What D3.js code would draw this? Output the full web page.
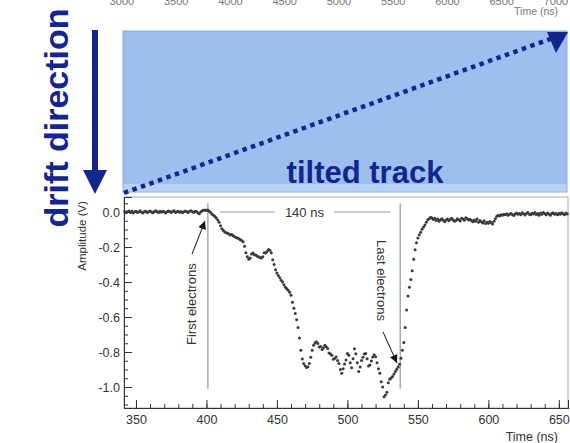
<!DOCTYPE html>
<html><head><meta charset="utf-8">
<script src="https://cdn.jsdelivr.net/npm/d3@7"></script>
<style>
html,body{margin:0;padding:0;background:#fff;}
svg{display:block;font-family:"Liberation Sans",Arial,Helvetica,sans-serif;}
</style></head>
<body>
<svg id="c" width="570" height="443"></svg>
<script>
// ---- data ----
const t0 = 342; // first sample time (ns), 1 ns sampling
const amplitude = [
 0.003,-0.004,0.002,0.006,-0.002,0.004,-0.005,0.001,0.005,-0.003,
 0.002,0.007,-0.001,-0.006,0.003,0.005,-0.002,0.001,0.006,0.000,
 -0.004,0.003,0.008,0.002,-0.003,0.004,-0.001,0.005,0.002,-0.005,
 0.001,0.006,0.003,-0.002,0.004,0.007,-0.003,0.002,0.005,-0.001,
 0.003,-0.004,0.002,0.006,0.001,-0.003,0.004,0.008,0.002,-0.002,
 0.005,0.003,-0.006,-0.010,0.002,0.007,0.010,0.012,0.009,0.011,
 0.005,-0.003,-0.012,-0.018,-0.026,-0.034,-0.045,-0.058,-0.078,-0.095,
 -0.105,-0.114,-0.118,-0.121,-0.126,-0.131,-0.128,-0.136,-0.141,-0.145,
 -0.149,-0.153,-0.158,-0.162,-0.170,-0.195,-0.232,-0.255,-0.270,-0.262,
 -0.240,-0.234,-0.244,-0.246,-0.252,-0.256,-0.260,-0.263,-0.255,-0.232,
 -0.234,-0.226,-0.214,-0.218,-0.232,-0.272,-0.300,-0.330,-0.348,-0.362,
 -0.376,-0.390,-0.400,-0.415,-0.430,-0.438,-0.447,-0.458,-0.475,-0.515,
 -0.550,-0.580,-0.615,-0.660,-0.720,-0.790,-0.840,-0.866,-0.878,-0.888,
 -0.884,-0.866,-0.830,-0.790,-0.762,-0.748,-0.742,-0.752,-0.772,-0.768,
 -0.786,-0.776,-0.762,-0.770,-0.780,-0.805,-0.812,-0.818,-0.842,-0.835,
 -0.828,-0.848,-0.866,-0.900,-0.922,-0.895,-0.868,-0.846,-0.808,-0.818,
 -0.862,-0.890,-0.838,-0.782,-0.810,-0.862,-0.912,-0.886,-0.848,-0.830,
 -0.812,-0.808,-0.838,-0.880,-0.874,-0.852,-0.828,-0.816,-0.827,-0.862,
 -0.895,-0.922,-0.970,-1.000,-1.055,-1.045,-1.030,-0.975,-0.955,-0.948,
 -0.940,-0.925,-0.912,-0.898,-0.885,-0.870,-0.835,-0.790,-0.745,-0.660,
 -0.560,-0.480,-0.430,-0.385,-0.335,-0.270,-0.215,-0.175,-0.148,-0.130,
 -0.115,-0.098,-0.085,-0.074,-0.058,-0.044,-0.038,-0.030,-0.034,-0.042,
 -0.036,-0.048,-0.040,-0.052,-0.044,-0.038,-0.047,-0.055,-0.046,-0.040,
 -0.050,-0.043,-0.036,-0.045,-0.053,-0.048,-0.039,-0.044,-0.051,-0.035,
 -0.040,-0.047,-0.032,-0.038,-0.045,-0.041,-0.049,-0.056,-0.046,-0.052,
 -0.040,-0.058,-0.048,-0.055,-0.062,-0.050,-0.066,-0.058,-0.064,-0.054,
 -0.060,-0.068,-0.052,-0.038,-0.024,-0.018,-0.022,-0.015,-0.019,-0.012,
 -0.016,-0.010,-0.018,-0.013,-0.008,-0.014,-0.020,-0.011,-0.006,-0.013,
 -0.009,-0.015,-0.004,-0.010,-0.017,-0.008,-0.002,-0.012,-0.016,-0.007,
 -0.011,-0.003,-0.014,-0.009,-0.019,-0.006,-0.012,-0.002,-0.010,-0.015,
 -0.005,-0.011,-0.018,-0.008,-0.004,-0.013,-0.009,-0.016,-0.007,-0.012,
 -0.004,-0.010,-0.015,-0.006,-0.011
];
const xTicks = [350, 400, 450, 500, 550, 600, 650];
const yTicks = [0, -0.2, -0.4, -0.6, -0.8, -1.0];
const topTicks = [3000, 3500, 4000, 4500, 5000, 5500, 6000, 6500, 7000];
const markers = [401, 537.5];          // first / last electrons (ns)
const spanLabel = "140 ns";

// ---- layout ----
const svg = d3.select("#c");
const L = 124, R = 568, T = 197, B = 408;
const x = d3.scaleLinear().domain([341.5, 656.5]).range([L, R]);
const y = d3.scaleLinear().domain([0.086, -1.12]).range([T, B]);
const navy = "#13258f";

// top partial axis (previous plot)
const xt = d3.scaleLinear().domain([3000, 7000]).range([122, 556]);
svg.append("g").selectAll("text").data(topTicks).join("text")
  .attr("x", d => xt(d)).attr("y", 5).attr("text-anchor", "middle")
  .attr("font-size", 11).attr("fill", "#777").text(d => d);
svg.append("text").attr("x", 558).attr("y", 15).attr("text-anchor", "end")
  .attr("font-size", 10.5).attr("fill", "#777").text("Time (ns)");

// frame
svg.append("rect").attr("x", L).attr("y", T).attr("width", R - L).attr("height", B - T)
  .attr("fill", "#fff").attr("stroke", "#aaa").attr("stroke-width", 1);

// axes
const fmt = d => d.toFixed(1);
const gy = svg.append("g").attr("transform", `translate(${L},0)`);
gy.call(d3.axisLeft(y).tickValues(d3.range(-1.1, 0.08, 0.05)).tickSize(-4).tickFormat(""));
gy.call(g => g.append("g").call(d3.axisLeft(y).tickValues(yTicks).tickSize(-8).tickPadding(4).tickFormat(fmt)));
const gx = svg.append("g").attr("transform", `translate(0,${B})`);
gx.call(d3.axisBottom(x).tickValues(d3.range(350, 651, 10)).tickSize(-4).tickFormat(""));
gx.call(g => g.append("g").call(d3.axisBottom(x).tickValues(xTicks).tickSize(-8).tickPadding(7).tickFormat(d => d)));
svg.selectAll(".domain").attr("stroke", "#333");
svg.selectAll(".tick line").attr("stroke", "#333");
svg.selectAll(".tick text").attr("font-size", 12.5).attr("fill", "#333")
  .attr("font-family", "Liberation Sans, Arial, sans-serif");

svg.append("text").attr("x", 558).attr("y", 441).attr("text-anchor", "end")
  .attr("font-size", 12.5).attr("fill", "#333").text("Time (ns)");
svg.append("text").attr("transform", "translate(86,201) rotate(-90)").attr("text-anchor", "end")
  .attr("font-size", 11.5).attr("fill", "#333").text("Amplitude (V)");

// marker lines
svg.append("g").selectAll("line").data(markers).join("line")
  .attr("x1", d => x(d)).attr("x2", d => x(d)).attr("y1", y(0.05)).attr("y2", y(-1.01))
  .attr("stroke", "#aaa").attr("stroke-width", 1.5);

// 140 ns span
svg.append("line").attr("x1", x(409.5)).attr("x2", x(448.5)).attr("y1", y(0.0)).attr("y2", y(0.0))
  .attr("stroke", "#999").attr("stroke-width", 1);
svg.append("line").attr("x1", x(490.5)).attr("x2", x(530.5)).attr("y1", y(0.0)).attr("y2", y(0.0))
  .attr("stroke", "#999").attr("stroke-width", 1);
svg.append("text").attr("x", x(469.5)).attr("y", y(0.0) + 4.5).attr("text-anchor", "middle")
  .attr("font-size", 13).attr("fill", "#333").text(spanLabel);

// data points
svg.append("g").selectAll("circle").data(amplitude).join("circle")
  .attr("cx", (d, i) => x(t0 + i)).attr("cy", d => y(d)).attr("r", 1.5)
  .attr("fill", "#3a3a3a");

// annotations
svg.append("text").attr("transform", "translate(196,345) rotate(-90)")
  .attr("font-size", 13).attr("fill", "#333").text("First electrons");
svg.append("text").attr("transform", "translate(377,240) rotate(90)")
  .attr("font-size", 13).attr("fill", "#333").text("Last electrons");
svg.append("defs").append("marker").attr("id", "ah").attr("viewBox", "0 0 10 10")
  .attr("refX", 10).attr("refY", 5).attr("markerWidth", 10).attr("markerHeight", 8)
  .attr("markerUnits", "userSpaceOnUse").attr("orient", "auto")
  .append("path").attr("d", "M0,0 L10,5 L0,10 Z").attr("fill", "#111");
svg.append("line").attr("x1", 192).attr("y1", 254).attr("x2", 205).attr("y2", 221)
  .attr("stroke", "#111").attr("stroke-width", 1).attr("marker-end", "url(#ah)");
svg.append("line").attr("x1", 383).attr("y1", 332).attr("x2", 397).attr("y2", 363)
  .attr("stroke", "#111").attr("stroke-width", 1).attr("marker-end", "url(#ah)");

// blue drift panel
svg.append("rect").attr("x", 123).attr("y", 31).attr("width", 444).attr("height", 161)
  .attr("fill", "#9cbff0").attr("stroke", "#8eaadb").attr("stroke-width", 1);
svg.append("rect").attr("x", 123.5).attr("y", 184).attr("width", 443).attr("height", 7.5)
  .attr("fill", "#b9d1f5");
svg.append("text").attr("x", 365).attr("y", 183).attr("text-anchor", "middle")
  .attr("font-size", 31).attr("font-weight", "bold").attr("fill", navy).text("tilted track");
// dotted tilted track arrow
svg.append("line").attr("x1", 124).attr("y1", 193).attr("x2", 553).attr("y2", 38)
  .attr("stroke", navy).attr("stroke-width", 4.5).attr("stroke-dasharray", "4.5 4.5");
svg.append("path").attr("d", "M568,32 L547,32 L556,53 Z").attr("fill", navy);

// drift direction
svg.append("line").attr("x1", 95).attr("y1", 30).attr("x2", 95).attr("y2", 174)
  .attr("stroke", navy).attr("stroke-width", 6);
svg.append("path").attr("d", "M83,170 L107,170 L95,194 Z").attr("fill", navy);
svg.append("text").attr("transform", "translate(68,118) rotate(-90)").attr("text-anchor", "middle")
  .attr("font-size", 34).attr("font-weight", "bold").attr("fill", navy).text("drift direction");
</script>
</body></html>
